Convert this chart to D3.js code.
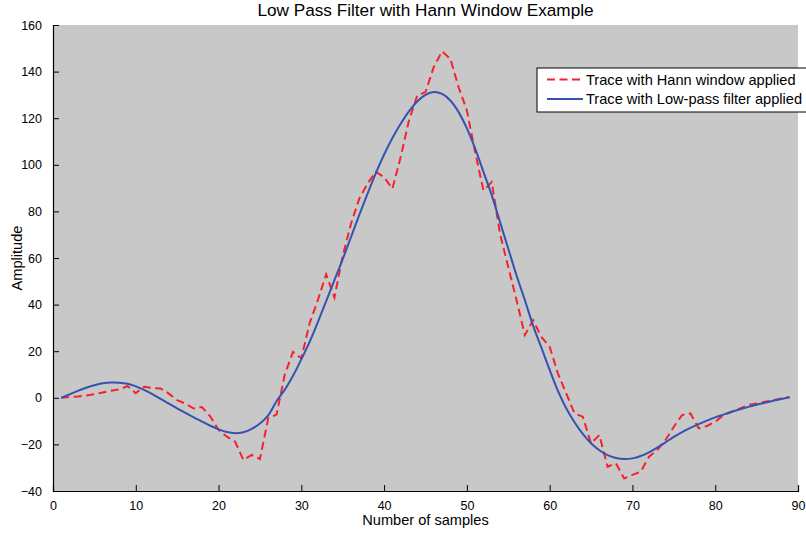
<!DOCTYPE html>
<html>
<head>
<meta charset="utf-8">
<script src="https://cdn.jsdelivr.net/npm/d3@7"></script>
<style>
  html, body { margin: 0; padding: 0; background: #ffffff; }
  svg { display: block; overflow: hidden; }
  text { font-family: "Liberation Sans", Arial, Helvetica, sans-serif; fill: #000; }
</style>
</head>
<body>
<svg id="chart" width="806" height="535"></svg>
<script>
// Sample index (1..89)
const samples = d3.range(1, 90);

// Trace with Hann window applied
const hannTrace = [
  0, 0.3, 0.6, 1.0, 1.5, 2.3, 3.0, 3.6, 5.0, 2.0,
  4.7, 4.2, 4.0, 1.8, -1.0, -2.5, -4.6, -4.0, -8.0, -13.8,
  -16.7, -18.8, -26.7, -24.5, -26.3, -8.8, -7.2, 10.0, 19.7, 17.0,
  32.0, 42.0, 53.0, 43.0, 61.0, 74.7, 85.5, 92.0, 97.0, 94.7,
  89.7, 103.3, 119.0, 129.7, 131.2, 142.0, 148.7, 145.5, 133.3, 123.3,
  105.4, 89.0, 92.6, 70.4, 56.1, 41.9, 26.9, 33.3, 26.1, 21.9,
  10.4, 1.9, -6.7, -8.1, -19.6, -16.0, -29.6, -28.1, -34.6, -33.1,
  -31.7, -25.3, -22.4, -18.1, -12.4, -7.4, -6.7, -13.1, -12.1, -10.3,
  -7.4, -6.0, -4.6, -3.1, -2.4, -1.7, -1.0, -0.3, 0.2
];

// Trace with Low-pass filter applied
const lowPassTrace = [
  0, 1.5, 3.0, 4.3, 5.4, 6.2, 6.6, 6.5, 6.0, 4.9,
  3.4, 1.6, -0.5, -2.5, -4.5, -6.5, -8.4, -10.2, -12.0, -13.5,
  -14.7, -15.2, -14.8, -13.3, -11.0, -7.5, -1.5, 3.5, 9.5, 16.5,
  24.0, 32.5, 41.5, 50.5, 59.5, 69.0, 78.5, 87.6, 96.4, 104.4,
  111.5, 117.6, 122.9, 127.2, 130.0, 131.2, 130.4, 127.6, 122.6, 115.6,
  106.9, 97.0, 87.0, 75.5, 64.0, 52.5, 42.0, 31.0, 21.5, 12.0,
  3.0, -4.5, -10.5, -15.5, -19.5, -22.5, -24.6, -25.8, -26.3, -26.0,
  -25.0, -23.4, -21.4, -19.1, -16.8, -14.7, -12.9, -11.3, -9.8, -8.4,
  -7.2, -6.0, -4.9, -3.9, -3.0, -2.1, -1.3, -0.5, 0.3
];

const xTickValues = d3.range(0, 91, 10);
const yTickValues = d3.range(-40, 161, 20);

const seriesNames = ["Trace with Hann window applied", "Trace with Low-pass filter applied"];
const seriesColors = ["#f5222d", "#3552b0"];

const titleText = "Low Pass Filter with Hann Window Example";
const xLabel = "Number of samples";
const yLabel = "Amplitude";

// Layout
const svg = d3.select("#chart");
const plot = { left: 53, top: 25, right: 798, bottom: 491 };

const x = d3.scaleLinear().domain([0, 90]).range([plot.left, plot.right]);
const y = d3.scaleLinear().domain([-40, 160]).range([plot.bottom, plot.top]);

// Plot background
svg.append("rect")
  .attr("x", plot.left).attr("y", plot.top)
  .attr("width", plot.right - plot.left).attr("height", plot.bottom - plot.top)
  .attr("fill", "#c8c8c8");

// Axes with inward ticks
const xAxis = d3.axisBottom(x).tickValues(xTickValues).tickSize(-6).tickPadding(10).tickFormat(d3.format("d"));
const yAxis = d3.axisLeft(y).tickValues(yTickValues).tickSize(-6).tickPadding(11).tickFormat(d3.format("d"));

const gx = svg.append("g").attr("transform", `translate(0,${plot.bottom})`).call(xAxis);
const gy = svg.append("g").attr("transform", `translate(${plot.left},0)`).call(yAxis);

[gx, gy].forEach(g => {
  g.select(".domain").attr("stroke", "#000").attr("stroke-width", 1.2);
  g.selectAll(".tick line").attr("stroke", "#000").attr("stroke-width", 1);
  g.selectAll(".tick text")
    .attr("font-family", "'Liberation Sans', Arial, sans-serif")
    .attr("font-size", 12.5)
    .attr("fill", "#000");
});

// Data lines
const hannPts = samples.map((s, i) => [s, hannTrace[i]]);
const lowPts = samples.map((s, i) => [s, lowPassTrace[i]]);

const line = d3.line().x(d => x(d[0])).y(d => y(d[1]));

svg.append("path")
  .datum(hannPts)
  .attr("d", line)
  .attr("fill", "none")
  .attr("stroke", seriesColors[0])
  .attr("stroke-width", 2)
  .attr("stroke-dasharray", "8,4.5");

svg.append("path")
  .datum(lowPts)
  .attr("d", line.curve(d3.curveCatmullRom))
  .attr("fill", "none")
  .attr("stroke", seriesColors[1])
  .attr("stroke-width", 2);

// Title and axis labels
svg.append("text")
  .attr("x", (plot.left + plot.right) / 2).attr("y", 16)
  .attr("text-anchor", "middle")
  .attr("font-size", 17.2)
  .text(titleText);

svg.append("text")
  .attr("x", (plot.left + plot.right) / 2).attr("y", 525)
  .attr("text-anchor", "middle")
  .attr("font-size", 14.6)
  .text(xLabel);

svg.append("text")
  .attr("transform", `translate(22,${(plot.top + plot.bottom) / 2}) rotate(-90)`)
  .attr("text-anchor", "middle")
  .attr("font-size", 14.6)
  .text(yLabel);

// Legend
const legend = svg.append("g").attr("transform", "translate(537,68)");
legend.append("rect")
  .attr("x", 0).attr("y", 0)
  .attr("width", 290).attr("height", 44)
  .attr("fill", "#ffffff")
  .attr("stroke", "#000").attr("stroke-width", 1);

seriesNames.forEach((name, i) => {
  const cy = 11.5 + i * 19.5;
  legend.append("line")
    .attr("x1", 10).attr("x2", 46)
    .attr("y1", cy).attr("y2", cy)
    .attr("stroke", seriesColors[i])
    .attr("stroke-width", 2)
    .attr("stroke-dasharray", i === 0 ? "8,4.5" : null);
  legend.append("text")
    .attr("x", 49).attr("y", cy + 5)
    .attr("font-size", 14.6)
    .text(name);
});
</script>
</body>
</html>
